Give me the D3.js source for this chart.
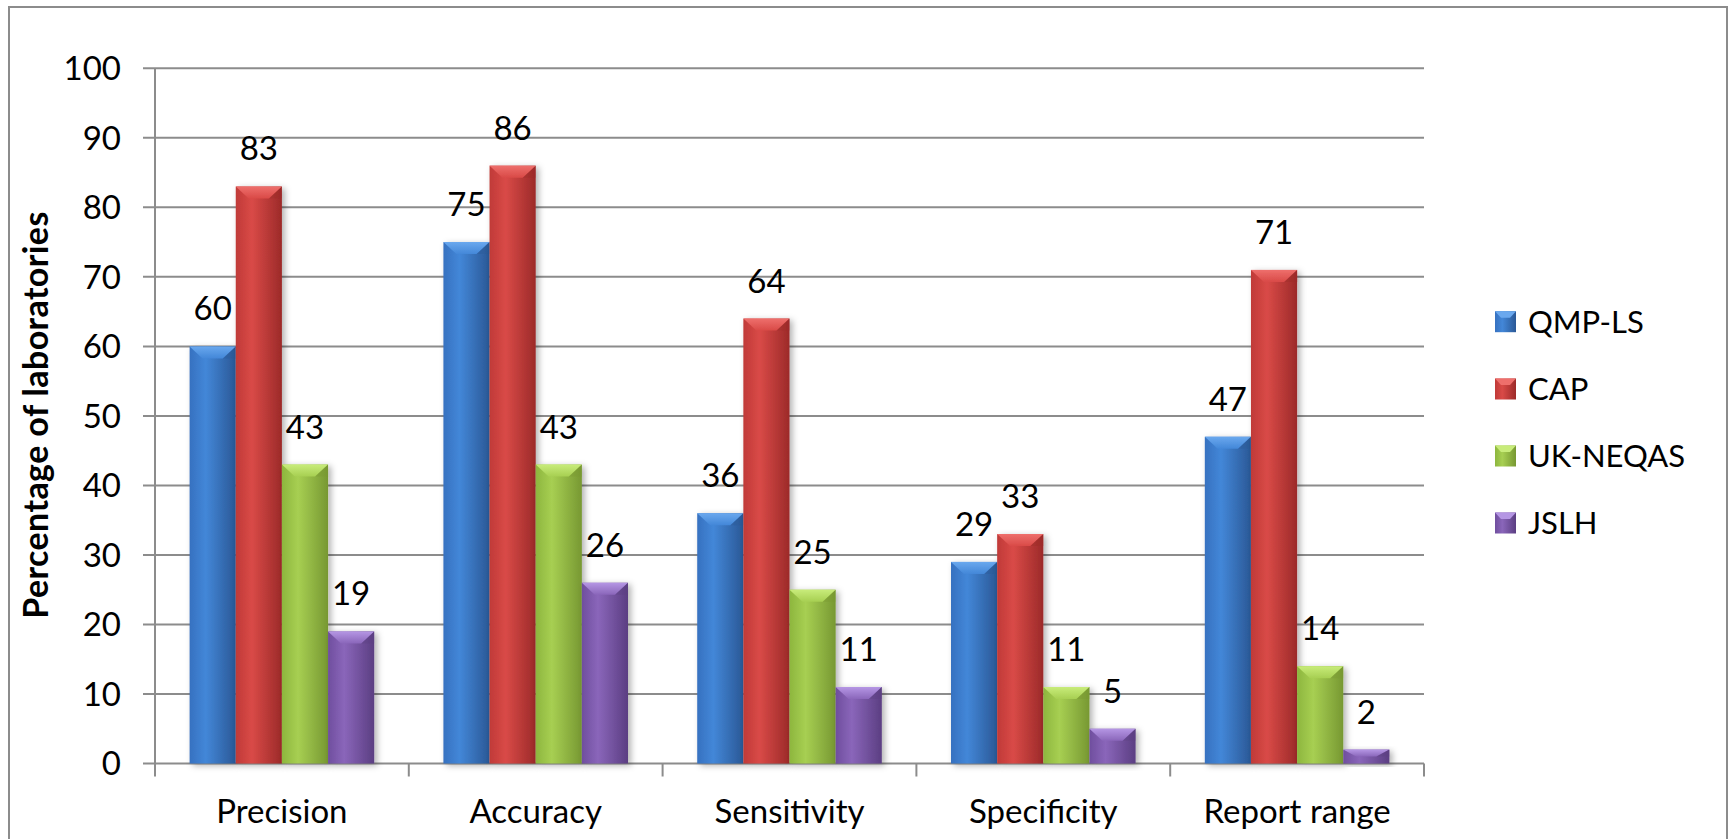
<!DOCTYPE html>
<html>
<head>
<meta charset="utf-8">
<script src="https://cdn.jsdelivr.net/npm/d3@7"></script>
<style>
  html, body { margin: 0; padding: 0; background: #fff; }
  svg { display: block; }
  text { font-family: Lato, "Open Sans", sans-serif; fill: #000; }
</style>
</head>
<body>
<svg id="chart" width="1732" height="839"></svg>
<script>
// Categories and series
const categories = ["Precision", "Accuracy", "Sensitivity", "Specificity", "Report range"];
const seriesNames = ["QMP-LS", "CAP", "UK-NEQAS", "JSLH"];
const qmpls  = [60, 75, 36, 29, 47];
const cap    = [83, 86, 64, 33, 71];
const ukneqas = [43, 43, 25, 11, 14];
const jslh   = [19, 26, 11, 5, 2];
const yTicks = [0, 10, 20, 30, 40, 50, 60, 70, 80, 90, 100];
const yTitle = "Percentage of laboratories";

const seriesValues = [qmpls, cap, ukneqas, jslh];

// Bevelled fill colours per series: [edge-left, highlight, edge-right, top face]
const palette = [
  { l: "#3671c0", m: "#4387d8", r: "#2a5896", top: "#6aa8ee" },
  { l: "#c03a38", m: "#d94a47", r: "#9c2a29", top: "#ee6f6c" },
  { l: "#8db63e", m: "#a7cf52", r: "#779832", top: "#c8ec7a" },
  { l: "#6f4e9e", m: "#8a66ba", r: "#5b3e82", top: "#b596e4" }
];

const svg = d3.select("#chart");
const defs = svg.append("defs");

palette.forEach((c, i) => {
  const g = defs.append("linearGradient").attr("id", "barGrad" + i)
    .attr("x1", "0").attr("x2", "1").attr("y1", "0").attr("y2", "0");
  g.append("stop").attr("offset", "0%").attr("stop-color", c.l);
  g.append("stop").attr("offset", "35%").attr("stop-color", c.m);
  g.append("stop").attr("offset", "100%").attr("stop-color", c.r);
  const t = defs.append("linearGradient").attr("id", "topGrad" + i)
    .attr("x1", "0").attr("x2", "0").attr("y1", "0").attr("y2", "1");
  t.append("stop").attr("offset", "0%").attr("stop-color", c.top);
  t.append("stop").attr("offset", "100%").attr("stop-color", c.m);
});

const shadow = defs.append("filter").attr("id", "barShadow")
  .attr("x", "-20%").attr("y", "-20%").attr("width", "150%").attr("height", "140%");
shadow.append("feDropShadow").attr("dx", 3).attr("dy", 2)
  .attr("stdDeviation", 3).attr("flood-color", "#000").attr("flood-opacity", 0.3);

// Outer chart frame
svg.append("rect")
  .attr("x", 9).attr("y", 7).attr("width", 1718).attr("height", 900)
  .attr("fill", "none").attr("stroke", "#8c8c8c").attr("stroke-width", 2);

const plot = { left: 155, right: 1424, top: 68.3, bottom: 763.5 };

const x0 = d3.scaleBand().domain(categories).range([plot.left, plot.right]).padding(0);
const x1 = d3.scaleBand().domain(seriesNames).range([0, x0.bandwidth()])
  .paddingInner(0).paddingOuter(0.75);
const y = d3.scaleLinear().domain([0, 100]).range([plot.bottom, plot.top]);

// Horizontal gridlines (with tick stubs left of the axis)
svg.append("g").selectAll("line").data(yTicks).join("line")
  .attr("x1", plot.left - 12).attr("x2", plot.right)
  .attr("y1", d => y(d)).attr("y2", d => y(d))
  .attr("stroke", "#8c8c8c").attr("stroke-width", 2);

// Vertical axis line
svg.append("line")
  .attr("x1", plot.left).attr("x2", plot.left)
  .attr("y1", plot.top).attr("y2", plot.bottom + 13)
  .attr("stroke", "#8c8c8c").attr("stroke-width", 2);

// Category separators on the x axis
const bounds = categories.map(c => x0(c)).concat([plot.right]);
svg.append("g").selectAll("line").data(bounds.slice(1)).join("line")
  .attr("x1", d => d).attr("x2", d => d)
  .attr("y1", plot.bottom).attr("y2", plot.bottom + 13)
  .attr("stroke", "#8c8c8c").attr("stroke-width", 2);

// Y tick labels
svg.append("g").selectAll("text").data(yTicks).join("text")
  .attr("x", 121).attr("y", d => y(d))
  .attr("dy", "0.36em")
  .attr("text-anchor", "end")
  .style("font-size", "33px")
  .text(d => d);

// Y axis title
svg.append("text")
  .attr("transform", "translate(48,415) rotate(-90)")
  .attr("text-anchor", "middle")
  .style("font-size", "34px").style("font-weight", "bold")
  .style("letter-spacing", "0.4px")
  .text(yTitle);

// Category labels
svg.append("g").selectAll("text").data(categories).join("text")
  .attr("x", d => x0(d) + x0.bandwidth() / 2).attr("y", 823)
  .attr("text-anchor", "middle")
  .style("font-size", "33px")
  .text(d => d);

// Draws one bevelled column
function bevelBar(g, xPos, yTop, w, h, si) {
  const grp = g.append("g").attr("filter", "url(#barShadow)");
  grp.append("rect").attr("x", xPos).attr("y", yTop).attr("width", w).attr("height", h)
    .attr("fill", `url(#barGrad${si})`);
  const bh = Math.min(12, h / 2);
  const inset = w * 0.28;
  grp.append("path")
    .attr("d", `M${xPos},${yTop} L${xPos + w},${yTop} L${xPos + w - inset},${yTop + bh} L${xPos + inset},${yTop + bh} Z`)
    .attr("fill", `url(#topGrad${si})`);
  grp.append("path")
    .attr("d", `M${xPos + w},${yTop} L${xPos + w - inset},${yTop + bh} L${xPos + w},${yTop + bh} Z`)
    .attr("fill", palette[si].r).attr("opacity", 0.35);
}

const barsG = svg.append("g");
categories.forEach((cat, ci) => {
  seriesNames.forEach((s, si) => {
    const v = seriesValues[si][ci];
    const bx = x0(cat) + x1(s);
    const by = y(v);
    bevelBar(barsG, bx, by, x1.bandwidth(), y(0) - by, si);
  });
});

// Value labels above each column
const labelsG = svg.append("g");
categories.forEach((cat, ci) => {
  seriesNames.forEach((s, si) => {
    const v = seriesValues[si][ci];
    labelsG.append("text")
      .attr("x", x0(cat) + x1(s) + x1.bandwidth() / 2)
      .attr("y", y(v) - 26)
      .attr("text-anchor", "middle")
      .style("font-size", "33px")
      .text(v);
  });
});

// Legend
const legendY = [321.7, 389, 456, 523];
const legend = svg.append("g");
seriesNames.forEach((s, si) => {
  const ly = legendY[si];
  const g = legend.append("g");
  g.append("rect").attr("x", 1495).attr("y", ly - 10.5).attr("width", 21).attr("height", 21)
    .attr("fill", `url(#barGrad${si})`);
  g.append("path")
    .attr("d", `M1495,${ly - 10.5} L1516,${ly - 10.5} L1510,${ly - 4} L1501,${ly - 4} Z`)
    .attr("fill", palette[si].top);
  g.append("text").attr("x", 1528).attr("y", ly).attr("dy", "0.36em")
    .style("font-size", "31px").text(s);
});
</script>
</body>
</html>
